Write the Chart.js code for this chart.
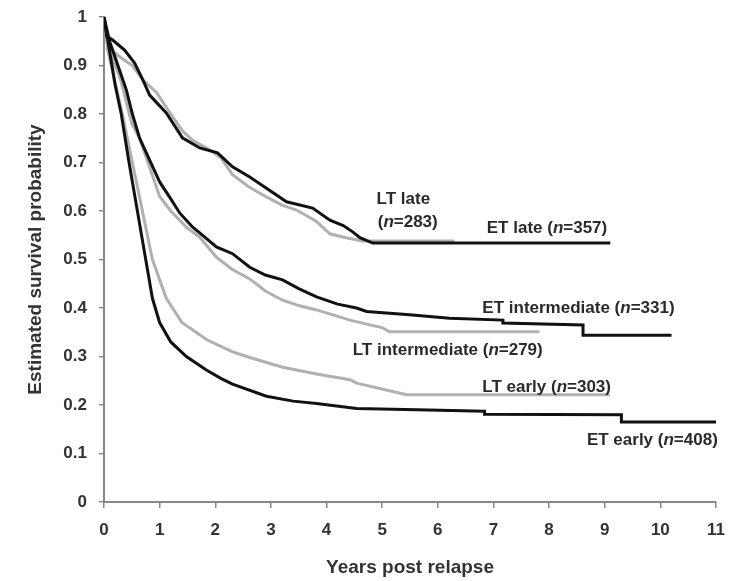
<!DOCTYPE html>
<html>
<head>
<meta charset="utf-8">
<script src="https://cdn.jsdelivr.net/npm/chart.js@4"></script>
<style>
  html, body { margin: 0; padding: 0; background: #fff; }
  #wrap { width: 731px; height: 581px; position: relative; }
</style>
</head>
<body>
<div id="wrap"><canvas id="km"></canvas></div>
<script>
// Kaplan-Meier curves, values: [years, survival]
const etLate = [[0,1],[0.05,0.96],[0.15,0.953],[0.37,0.932],[0.55,0.905],[0.7,0.87],[0.82,0.839],[1.12,0.802],[1.41,0.751],[1.72,0.73],[2.04,0.72],[2.31,0.691],[2.62,0.67],[2.92,0.647],[3.28,0.619],[3.75,0.606],[4.06,0.581],[4.3,0.57],[4.47,0.557],[4.6,0.545],[4.83,0.534],[9.1,0.534]];
const ltLate = [[0,1],[0.1,0.935],[0.28,0.918],[0.51,0.9],[0.7,0.87],[0.94,0.845],[1.2,0.8],[1.41,0.765],[1.6,0.745],[1.9,0.726],[2.1,0.71],[2.31,0.675],[2.6,0.65],[2.92,0.629],[3.2,0.612],[3.46,0.602],[3.8,0.58],[4.06,0.553],[4.35,0.545],[4.65,0.538],[6.3,0.538]];
const etInter = [[0,1],[0.1,0.95],[0.25,0.9],[0.4,0.85],[0.51,0.8],[0.64,0.75],[0.8,0.71],[1.0,0.66],[1.2,0.625],[1.36,0.596],[1.59,0.567],[1.72,0.555],[2.02,0.526],[2.31,0.512],[2.62,0.484],[2.9,0.468],[3.21,0.458],[3.5,0.44],[3.82,0.423],[4.2,0.408],[4.54,0.4],[4.72,0.393],[5.49,0.386],[6.21,0.379],[7.17,0.375],[7.17,0.369],[8.61,0.365],[8.61,0.344],[10.2,0.344]];
const ltInter = [[0,1],[0.1,0.93],[0.3,0.87],[0.5,0.78],[0.64,0.75],[0.82,0.69],[1.0,0.63],[1.2,0.6],[1.48,0.567],[1.72,0.546],[2.02,0.505],[2.3,0.48],[2.62,0.46],[2.9,0.435],[3.21,0.416],[3.5,0.405],[3.82,0.396],[4.42,0.375],[5.01,0.359],[5.13,0.351],[7.83,0.351]];
const etEarly = [[0,1],[0.1,0.93],[0.2,0.86],[0.31,0.8],[0.45,0.7],[0.6,0.6],[0.75,0.5],[0.87,0.42],[1.0,0.37],[1.2,0.33],[1.48,0.3],[1.84,0.272],[2.1,0.255],[2.31,0.243],[2.92,0.218],[3.4,0.208],[3.82,0.203],[4.54,0.193],[5.62,0.19],[6.84,0.187],[6.84,0.181],[9.3,0.18],[9.3,0.165],[11,0.165]];
const ltEarly = [[0,1],[0.07,0.93],[0.33,0.8],[0.51,0.7],[0.69,0.6],[0.87,0.5],[1.12,0.42],[1.4,0.37],[1.84,0.335],[2.3,0.31],[2.62,0.298],[3.21,0.278],[3.82,0.264],[4.42,0.252],[4.54,0.245],[5.44,0.221],[9.09,0.221]];

const xTicks = [0,1,2,3,4,5,6,7,8,9,10,11];
const yTicks = [0,0.1,0.2,0.3,0.4,0.5,0.6,0.7,0.8,0.9,1];

// curve labels: [x, y, before, italic, after]
const curveLabels = [
  [4.9, 0.625, 'LT late', '', ''],
  [4.92, 0.577, '(', 'n', '=283)'],
  [6.88, 0.565, 'ET late (', 'n', '=357)'],
  [6.8, 0.40, 'ET intermediate (', 'n', '=331)'],
  [4.47, 0.313, 'LT intermediate (', 'n', '=279)'],
  [6.8, 0.237, 'LT early (', 'n', '=303)'],
  [8.68, 0.128, 'ET early (', 'n', '=408)']
];

const FONT = '"Liberation Sans", Arial, sans-serif';
Chart.defaults.font.family = FONT;

function toPts(arr){ return arr.map(p => ({ x: p[0], y: p[1] })); }
function curve(data, color){
  return { data: toPts(data), borderColor: color, borderWidth: 3, pointRadius: 0, tension: 0, fill: false };
}

const labelPlugin = {
  id: 'curveLabels',
  afterDatasetsDraw(chart){
    const { ctx, scales: { x, y } } = chart;
    ctx.save();
    ctx.fillStyle = '#2a2a2a';
    ctx.textBaseline = 'middle';
    curveLabels.forEach(l => {
      let px = x.getPixelForValue(l[0]);
      const py = y.getPixelForValue(l[1]);
      [[l[2], ''], [l[3], 'italic '], [l[4], '']].forEach(part => {
        if (!part[0]) return;
        ctx.font = part[1] + 'bold 17px ' + FONT;
        ctx.fillText(part[0], px, py);
        px += ctx.measureText(part[0]).width;
      });
    });
    ctx.restore();
  }
};

new Chart(document.getElementById('km'), {
  type: 'line',
  data: {
    datasets: [
      curve(etLate, '#111'),
      curve(etInter, '#111'),
      curve(etEarly, '#111'),
      curve(ltLate, '#b0b0b0'),
      curve(ltInter, '#b0b0b0'),
      curve(ltEarly, '#b0b0b0')
    ]
  },
  options: {
    responsive: true,
    maintainAspectRatio: false,
    animation: false,
    layout: { padding: { top: 17, right: 15, bottom: 0, left: 0 } },
    plugins: { legend: { display: false }, tooltip: { enabled: false } },
    scales: {
      x: {
        type: 'linear', min: 0, max: 11,
        afterBuildTicks: s => { s.ticks = xTicks.map(v => ({ value: v })); },
        afterFit: s => { s.height = 79; s.paddingLeft = 0; s.paddingRight = 0; },
        grid: { drawOnChartArea: false, drawTicks: true, tickLength: 6, color: '#888', lineWidth: 1.5 },
        border: { display: true, color: '#888', width: 2 },
        ticks: { color: '#333', padding: 12, font: { size: 17, weight: 'bold' }, callback: v => String(v) },
        title: { display: true, text: 'Years post relapse', color: '#333', font: { size: 19, weight: 'bold' }, padding: { top: 0, bottom: 2 } }
      },
      y: {
        type: 'linear', min: 0, max: 1,
        afterBuildTicks: s => { s.ticks = yTicks.map(v => ({ value: v })); },
        afterFit: s => { s.width = 104; s.paddingTop = 0; s.paddingBottom = 0; },
        grid: { drawOnChartArea: false, drawTicks: true, tickLength: 5, color: '#888', lineWidth: 1.5 },
        border: { display: true, color: '#888', width: 2 },
        ticks: { color: '#333', padding: 12, font: { size: 17, weight: 'bold' }, callback: v => String(v) },
        title: { display: true, text: 'Estimated survival probability', color: '#333', font: { size: 19, weight: 'bold' }, padding: { top: 24, bottom: 0 } }
      }
    }
  },
  plugins: [labelPlugin]
});
</script>
</body>
</html>
